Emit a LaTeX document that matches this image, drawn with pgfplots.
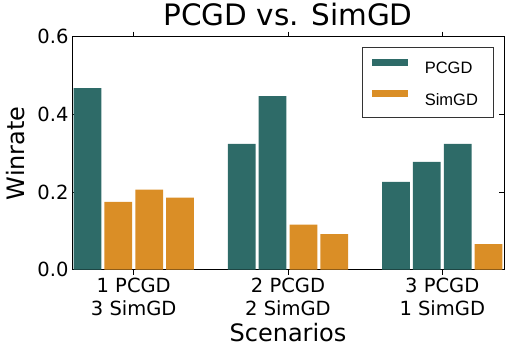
\documentclass[border=0pt]{standalone}
\usepackage{pgfplots}
\pgfplotsset{compat=1.18}
\usepackage{fontspec}
\setmainfont{DejaVu Sans}
\newfontfamily\legendfont{Liberation Sans}
\definecolor{pcgd}{RGB}{46,107,104}
\definecolor{simgd}{RGB}{218,142,38}

\begin{document}
\begin{tikzpicture}
\begin{axis}[
    scale only axis,
    width=432pt, height=233pt,
    xmin=-0.4, xmax=2.4,
    ymin=0, ymax=0.6,
    ytick={0,0.2,0.4,0.6},
    /pgf/number format/assume math mode=true,
    yticklabel style={/pgf/number format/fixed, /pgf/number format/fixed zerofill,
        /pgf/number format/precision=1, font=\fontsize{19.5}{23}\selectfont},
    xtick={0,1,2},
    xticklabels={{1 PCGD\\3 SimGD},{2 PCGD\\2 SimGD},{3 PCGD\\1 SimGD}},
    xticklabel style={align=center, font=\fontsize{19.5}{22.7}\selectfont},
    tick align=inside,
    major tick length=5pt,
    tick style={black, line width=0.6pt},
    axis line style={black, line width=0.8pt},
    title={PCGD vs. SimGD},
    title style={font=\fontsize{29.5}{34}\selectfont, at={(axis description cs:0.5,1)}, anchor=base, yshift=5pt},
    xlabel={Scenarios},
    xlabel style={font=\fontsize{24}{28}\selectfont, at={(axis description cs:0.5,-0.309)}, anchor=base},
    ylabel={Winrate},
    ylabel style={font=\fontsize{24}{28}\selectfont, at={(axis description cs:-0.1296,0.5)}, anchor=center},
    ybar, bar width=0.18, bar shift=0pt,
    legend style={at={(0.977,0.957)}, anchor=north east, draw=black!80, line width=0.6pt,
        inner xsep=9pt, inner ysep=11.5pt, row sep=16.6pt,
        nodes={inner sep=0pt, text height=11.6pt, text depth=0pt, text width=60pt,
            font=\legendfont\fontsize{16.5}{19}\selectfont},
        /tikz/every odd column/.append style={column sep=17pt}},
    legend cell align={left},
    legend image code/.code={\fill[#1] (0pt,2.3pt) rectangle (36pt,9.3pt);},
]
% PCGD bars
\addplot[fill=pcgd, draw=none] coordinates {
    (-0.3, 0.468)
    (0.7, 0.324) (0.9, 0.447)
    (1.7, 0.226) (1.9, 0.278) (2.1, 0.324)
};
% SimGD bars
\addplot[fill=simgd, draw=none] coordinates {
    (-0.1, 0.175) (0.1, 0.206) (0.3, 0.186)
    (1.1, 0.116) (1.3, 0.092)
    (2.3, 0.066)
};
\legend{PCGD, SimGD}
\end{axis}
\path ([xshift=-72pt,yshift=-83.7pt]current axis.south west) rectangle ([xshift=6pt,yshift=35pt]current axis.north east);
\end{tikzpicture}
\end{document}
